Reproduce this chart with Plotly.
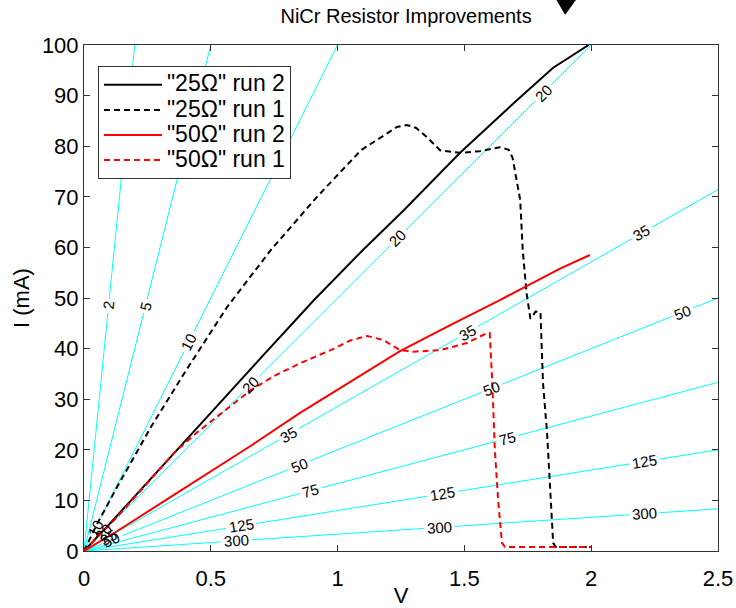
import math
import plotly.graph_objects as go

# Measured I-V curves (V in volts, I in mA)
v_25_run2 = [0, 0.05, 0.1, 0.2, 0.355, 0.5, 0.7, 0.907, 1.1, 1.262, 1.483, 1.707, 1.85, 1.99]
i_25_run2 = [0, 2.6, 5.3, 10.8, 19.4, 27.3, 38.3, 49.6, 59.5, 67.4, 78.7, 89.1, 95.5, 100]

v_25_run1 = [0, 0.05, 0.13, 0.264, 0.4, 0.564, 0.737, 0.919, 1.092, 1.234, 1.273, 1.31,
             1.352, 1.404, 1.483, 1.56, 1.64, 1.675, 1.69, 1.72, 1.73, 1.745, 1.76, 1.765,
             1.78, 1.80, 1.805, 1.81, 1.826, 1.838, 1.85, 1.86, 2.0]
i_25_run1 = [0, 5.2, 12.6, 24.5, 35.5, 48.2, 59.5, 70, 79.2, 83.8, 84.2, 83.6,
             81.8, 79.2, 78.7, 79.0, 79.8, 79.3, 77.7, 69.4, 59.5, 51, 46, 46,
             47.3, 47.2, 40, 33.2, 23.3, 13.4, 1.6, 0.8, 0.8]

v_50_run2 = [0, 0.13, 0.327, 0.5, 0.658, 0.852, 0.986, 1.246, 1.45, 1.64, 1.877, 1.995]
i_50_run2 = [0, 3.9, 10.2, 15.8, 20.8, 27.3, 31.5, 39.5, 44.8, 49.6, 55.8, 58.5]

v_50_run1 = [0, 0.05, 0.13, 0.2, 0.355, 0.45, 0.55, 0.658, 0.75, 0.852, 0.986, 1.05, 1.116,
             1.18, 1.246, 1.3, 1.404, 1.51, 1.59, 1.60, 1.61, 1.62, 1.633, 1.648, 1.66, 2.0]
i_50_run1 = [0, 2.6, 6.7, 10.6, 19.4, 23.6, 27.6, 31.8, 34.6, 37.1, 40.0, 41.6, 42.5,
             41.7, 39.7, 39.4, 39.7, 41.1, 43.1, 43.1, 33.2, 20, 10.1, 1.6, 0.8, 0.8]

# Constant-resistance lines (ohms) and the voltages where each carries a label
r_levels = [2, 5, 10, 20, 35, 50, 75, 125, 300]
label_volts = {
    2: [0.097],
    5: [0.242],
    10: [0.414, 0.045],
    20: [0.658, 1.238, 1.81, 0.075],
    35: [0.808, 1.514, 2.2, 0.095],
    50: [0.848, 1.608, 2.36, 0.11],
    75: [0.895, 1.67],
    125: [0.62, 1.415, 2.21],
    300: [0.6, 1.40, 2.21],
}

x_ticks = [0, 0.5, 1, 1.5, 2, 2.5]
x_tick_text = ["0", "0.5", "1", "1.5", "2", "2.5"]
y_ticks = list(range(0, 101, 10))

FONT = "Arial, Liberation Sans, sans-serif"
W, H = 736, 608
ML, MR, MT, MB = 84, 18, 45, 57
V_MAX, I_MAX = 2.5, 100.0
PX_PER_V = (W - ML - MR) / V_MAX
PX_PER_MA = (H - MT - MB) / I_MAX
LABEL_SIZE = 15

fig = go.Figure()
annotations = []

# Cyan iso-resistance lines I = 1000 V / R, broken where a label sits
for r in r_levels:
    k = 1000.0 / r                      # mA per volt
    v_end = min(V_MAX, I_MAX / k)
    px_len = math.hypot(PX_PER_V, PX_PER_MA * k)   # pixels per volt along the line
    angle = math.degrees(math.atan2(PX_PER_MA * k, PX_PER_V))
    gaps = []
    for vl in sorted(label_volts[r]):
        half = (len(str(r)) * 0.556 * LABEL_SIZE / 2 + 3) / px_len
        gaps.append((vl - half, vl + half))
        annotations.append(dict(
            x=vl, y=k * vl, xref="x", yref="y", text=str(r), showarrow=False,
            textangle=-angle, font=dict(family=FONT, size=LABEL_SIZE, color="black"),
            xanchor="center", yanchor="middle",
        ))
    xs, ys = [], []
    start = 0.0
    for g0, g1 in gaps:
        if g0 > start:
            xs += [start, g0, None]
            ys += [k * start, k * g0, None]
        start = max(start, g1)
    if start < v_end:
        xs += [start, v_end]
        ys += [k * start, k * v_end]
    fig.add_trace(go.Scatter(
        x=xs, y=ys, mode="lines", line=dict(color="#00FFFF", width=1),
        showlegend=False, hoverinfo="skip",
    ))

series = [
    (v_25_run2, i_25_run2, '"25Ω" run 2', "black", "solid"),
    (v_25_run1, i_25_run1, '"25Ω" run 1', "black", "6px,4px"),
    (v_50_run2, i_50_run2, '"50Ω" run 2', "red", "solid"),
    (v_50_run1, i_50_run1, '"50Ω" run 1', "red", "6px,4px"),
]
for vx, iy, name, col, dash in series:
    fig.add_trace(go.Scatter(
        x=vx, y=iy, mode="lines",
        name='<span style="font-size:23px">' + name + "</span>",
        line=dict(color=col, width=2, dash=dash),
    ))

axis_common = dict(
    showline=True, linecolor="#333333", linewidth=1, mirror="ticks",
    ticks="inside", ticklen=6, tickcolor="#333333", showgrid=False, zeroline=False,
    tickfont=dict(family=FONT, size=22, color="black"), automargin=False,
)

fig.update_layout(
    width=W, height=H,
    margin=dict(l=ML, r=MR, t=MT, b=MB, autoexpand=False),
    paper_bgcolor="white", plot_bgcolor="white",
    title=dict(text="NiCr Resistor Improvements", xref="paper", x=0.508,
               xanchor="center", yref="container", y=0.985, yanchor="top",
               font=dict(family=FONT, size=20, color="black")),
    xaxis=dict(range=[0, V_MAX], tickvals=x_ticks, ticktext=x_tick_text,
               ticklabelstandoff=8,
               title=dict(text="V", font=dict(family=FONT, size=22, color="black"),
                          standoff=0),
               **axis_common),
    yaxis=dict(range=[0, I_MAX], tickvals=y_ticks,
               title=dict(text="I (mA)", font=dict(family=FONT, size=22, color="black"),
                          standoff=6),
               **axis_common),
    legend=dict(x=0.022, y=0.958, xanchor="left", yanchor="top",
                bgcolor="white", bordercolor="#333333", borderwidth=1,
                font=dict(family=FONT, size=17, color="black"),
                tracegroupgap=0, itemwidth=58),
    annotations=annotations,
    showlegend=True,
)

# Pointer marker above the plot frame
fig.add_shape(type="path", xref="paper", yref="paper",
              path="M 0.746 1.089 L 0.775 1.089 L 0.759 1.061 Z",
              fillcolor="black", line=dict(color="black", width=1))

fig.write_html("out.html")
